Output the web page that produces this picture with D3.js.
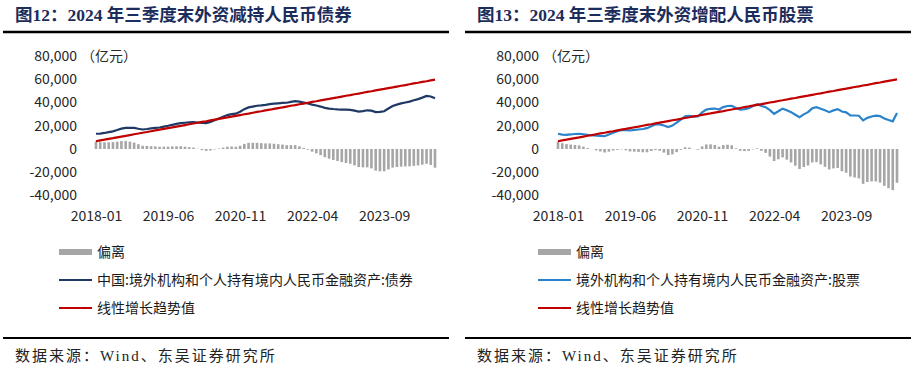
<!DOCTYPE html>
<html>
<head>
<meta charset="utf-8">
<script src="https://cdn.jsdelivr.net/npm/d3@7"></script>
<style>
  body { margin: 0; background: #fff; }
</style>
</head>
<body>
<div id="chart"></div>
<script>
// months 2018-01 .. 2024-09
var months = d3.timeMonths(new Date(2018, 0, 1), new Date(2024, 9, 1)).map(d3.timeFormat("%Y-%m"));
var xTicks = ["2018-01", "2019-06", "2020-11", "2022-04", "2023-09"];
var yTicks = [-40000, -20000, 0, 20000, 40000, 60000, 80000];

// 亿元
var bondHold = [
  13100, 13300, 13800, 14500, 15200, 16300, 17500, 18100, 18300, 18200,
  17400, 16800, 17200, 17700, 18200, 18500, 19300, 20000, 20800, 21600,
  22300, 22600, 22900, 23100, 22800, 22400, 22300, 23300, 24800, 26300,
  27800, 29200, 30000, 30400, 32000, 34300, 35800, 36500, 37200, 37500,
  38000, 38600, 39000, 39300, 39600, 39800, 40500, 41100, 40800, 40000,
  39200, 38200, 37400, 36500, 35400, 34800, 34400, 34100, 33900, 33800,
  33700, 33000, 32200, 32600, 33300, 33000, 31800, 31900, 32500, 34800,
  37000, 38200, 39200, 40000, 40800, 41900, 42900, 44200, 45600, 45200,
  43600
];
var bondTrend = [
  6700, 7400, 8000, 8700, 9300, 10000, 10700, 11300, 12000, 12700,
  13300, 14000, 14600, 15300, 16000, 16600, 17300, 18000, 18600, 19300,
  19900, 20600, 21300, 21900, 22600, 23300, 23900, 24600, 25200, 25900,
  26600, 27200, 27900, 28500, 29200, 29900, 30500, 31200, 31900, 32500,
  33200, 33800, 34500, 35200, 35800, 36500, 37200, 37800, 38500, 39100,
  39800, 40500, 41100, 41800, 42500, 43100, 43800, 44400, 45100, 45800,
  46400, 47100, 47700, 48400, 49100, 49700, 50400, 51100, 51700, 52400,
  53000, 53700, 54400, 55000, 55700, 56400, 57000, 57700, 58300, 59000,
  59700
];
var stockHold = [
  13100, 12400, 12200, 12500, 12900, 13100, 12700, 12200, 11900, 11500,
  11300, 11000, 12400, 14000, 15300, 16400, 16200, 15900, 16400, 16800,
  17200, 17900, 19600, 21100, 21200, 20200, 18800, 20100, 22600, 25300,
  28200, 28500, 27900, 28000, 31500, 33900, 34600, 34800, 34000, 36000,
  37000, 37200, 35200, 33800, 34200, 35000, 37000, 38600, 37000, 36000,
  33500, 30300, 32500, 34700, 33400, 31700, 29500, 27400, 29800, 31700,
  35000, 36000, 34700, 33300, 31700, 33200, 34300, 32200, 31500, 28900,
  28800, 28600, 24600, 26800, 28000, 28700, 28300, 26200, 24900, 23800,
  30900
];
var stockTrend = [
  6700, 7400, 8000, 8700, 9400, 10000, 10700, 11400, 12000, 12700,
  13400, 14000, 14700, 15300, 16000, 16700, 17300, 18000, 18700, 19300,
  20000, 20700, 21300, 22000, 22700, 23300, 24000, 24700, 25300, 26000,
  26700, 27300, 28000, 28600, 29300, 30000, 30600, 31300, 32000, 32600,
  33300, 34000, 34600, 35300, 36000, 36600, 37300, 38000, 38600, 39300,
  40000, 40600, 41300, 41900, 42600, 43300, 43900, 44600, 45300, 45900,
  46600, 47300, 47900, 48600, 49300, 49900, 50600, 51300, 51900, 52600,
  53300, 53900, 54600, 55200, 55900, 56600, 57200, 57900, 58600, 59200,
  59900
];

var width = 916, height = 367;
var sansFont = "'Noto Sans CJK SC', 'Noto Sans', sans-serif";
var serifFont = "'Liberation Serif', 'DejaVu Serif', 'Noto Sans CJK SC', serif";

var svg = d3.select("#chart")
    .append("svg")
    .attr("width", width)
    .attr("height", height)
    .style("font-family", sansFont);

svg.append("rect").attr("width", width).attr("height", height).attr("fill", "#fff");

var panels = [
    { ox: 0, title: "图12：2024 年三季度末外资减持人民币债券", actual: bondHold, trend: bondTrend,
      color: "#1f3864", name: "中国:境外机构和个人持有境内人民币金融资产:债券", legX: 59 },
    { ox: 462, title: "图13：2024 年三季度末外资增配人民币股票", actual: stockHold, trend: stockTrend,
      color: "#2b83cc", name: "境外机构和个人持有境内人民币金融资产:股票", legX: 76 }
];

var x = d3.scalePoint().domain(months).range([96, 435]);
var y = d3.scaleLinear().domain([-40000, 80000]).range([195.5, 56]);
var fmt = function (d) { return d3.format(",")(d).replace("\u2212", "-"); };

panels.forEach(function (p) {
    var g = svg.append("g").attr("transform", "translate(" + p.ox + ",0)");
    // 偏离 = actual - trend
    var dev = p.actual.map(function (v, i) { return v - p.trend[i]; });

    // title + rule
    g.append("text")
        .attr("x", 15).attr("y", 21)
        .style("font-family", serifFont)
        .style("font-weight", "bold")
        .style("font-size", "17.5px")
        .attr("fill", "#1c2c5b")
        .text(p.title);
    g.append("line")
        .attr("x1", 3).attr("x2", 449).attr("y1", 32).attr("y2", 32)
        .attr("stroke", "#000").attr("stroke-width", 2.5);

    // y axis
    var ay = g.append("g")
        .attr("class", "y-axis")
        .attr("transform", "translate(77,0)")
        .call(d3.axisLeft(y).tickValues(yTicks).tickSize(0).tickPadding(0).tickFormat(fmt));
    ay.select(".domain").remove();
    ay.selectAll("text").style("font-size", "14px").style("font-family", sansFont).attr("fill", "#262626");

    g.append("text")
        .attr("x", 81).attr("y", 61)
        .style("font-size", "14px")
        .attr("fill", "#262626")
        .text("（亿元）");

    // x axis
    var ax = g.append("g")
        .attr("class", "x-axis")
        .attr("transform", "translate(0,211)")
        .call(d3.axisBottom(x).tickValues(xTicks).tickSize(0).tickPadding(0));
    ax.select(".domain").remove();
    ax.selectAll("text").style("font-size", "14px").style("font-family", sansFont).attr("fill", "#262626");

    // deviation bars
    g.selectAll(".bar")
        .data(dev)
        .enter()
        .append("rect")
        .attr("class", "bar")
        .attr("x", function (d, i) { return x(months[i]) - 1.3; })
        .attr("width", 2.6)
        .attr("y", function (d) { return y(Math.max(0, d)); })
        .attr("height", function (d) { return Math.abs(y(d) - y(0)); })
        .attr("fill", "#a6a6a6");

    var line = d3.line()
        .x(function (d, i) { return x(months[i]); })
        .y(function (d) { return y(d); });

    g.append("path")
        .datum(p.actual)
        .attr("d", line)
        .attr("fill", "none")
        .attr("stroke", p.color)
        .attr("stroke-width", 2.2);

    g.append("path")
        .datum(p.trend)
        .attr("d", line)
        .attr("fill", "none")
        .attr("stroke", "#c00000")
        .attr("stroke-width", 2.2);

    // legend
    var lg = g.append("g").attr("transform", "translate(" + p.legX + ",0)");
    lg.append("rect").attr("x", 0).attr("y", 249).attr("width", 33).attr("height", 6).attr("fill", "#a6a6a6");
    lg.append("line").attr("x1", 0).attr("x2", 33).attr("y1", 280).attr("y2", 280)
        .attr("stroke", p.color).attr("stroke-width", 2.2);
    lg.append("line").attr("x1", 0).attr("x2", 33).attr("y1", 308).attr("y2", 308)
        .attr("stroke", "#c00000").attr("stroke-width", 2.2);
    [["偏离", 252], [p.name, 280], ["线性增长趋势值", 308]].forEach(function (t) {
        lg.append("text")
            .attr("x", 38).attr("y", t[1]).attr("dy", "0.35em")
            .style("font-size", "14px")
            .attr("fill", "#1a1a1a")
            .text(t[0]);
    });

    // source
    g.append("line")
        .attr("x1", 3).attr("x2", 449).attr("y1", 338).attr("y2", 338)
        .attr("stroke", "#000").attr("stroke-width", 2);
    g.append("text")
        .attr("x", 15).attr("y", 361)
        .style("font-family", serifFont)
        .style("font-size", "15px")
        .style("letter-spacing", "2px")
        .attr("fill", "#222")
        .text("数据来源：Wind、东吴证券研究所");
});
</script>
</body>
</html>
